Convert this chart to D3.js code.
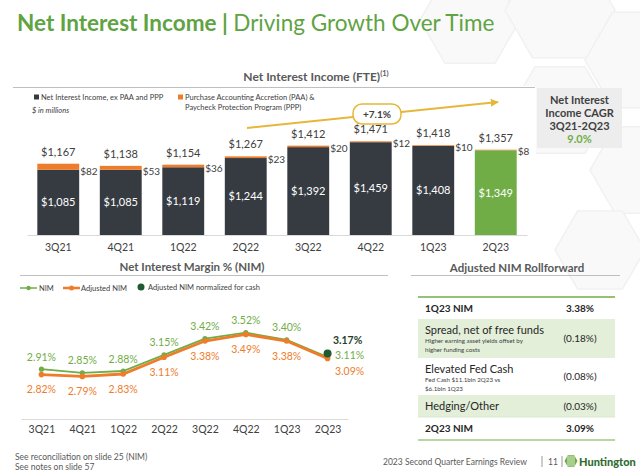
<!DOCTYPE html>
<html><head><meta charset="utf-8">
<script src="https://cdn.jsdelivr.net/npm/d3@7"></script>
<style>
html,body{margin:0;padding:0;background:#fff;}
svg{display:block;font-family:Lato,"Open Sans",sans-serif;}
</style></head>
<body><svg id="c" width="640" height="474"></svg>
<script>
// ---- data ----
const quarters = ["3Q21","4Q21","1Q22","2Q22","3Q22","4Q22","1Q23","2Q23"];
const niiExPaa = [1085,1085,1119,1244,1392,1459,1408,1349];
const paaPpp   = [82,53,36,23,20,12,10,8];
const niiTotal = [1167,1138,1154,1267,1412,1471,1418,1357];
const nim      = [2.91,2.85,2.88,3.15,3.42,3.52,3.40,3.11];
const adjNim   = [2.82,2.79,2.83,3.11,3.38,3.49,3.38,3.09];
const adjNimNormCash = 3.17;
const growthLabel = "+7.1%";
const cagrLabel = "9.0%";
const rollLabels = ["1Q23 NIM","Spread, net of free funds","Elevated Fed Cash","Hedging/Other","2Q23 NIM"];
const rollNotes  = [[],["Higher earning asset yields offset by","higher funding costs"],["Fed Cash $11.1bln 2Q23 vs","$6.1bln 1Q23"],[],[]];
const rollValues = ["3.38%","(0.18%)","(0.08%)","(0.03%)","3.09%"];

const svg = d3.select("#c");
const GREEN="#5fa343", DARK="#363b42", ORANGE="#ee7d2b", LGREEN="#70ad47", GOLD="#e5b83a", GRAY="#595959";

// background hexagons (faint)
const hexG = svg.append("g");
function hex(cx,cy,r){const p=[];for(let i=0;i<6;i++){const a=Math.PI/3*i;p.push([cx+r*Math.cos(a),cy+r*Math.sin(a)]);}return p;}
[[470,20,50],[560,10,55],[640,60,55],[560,110,50],[640,170,50],[600,250,45]].forEach(h=>{
  hexG.append("polygon").attr("points",hex(...h).join(" ")).attr("fill","#f9f9f9").attr("stroke","#f1f1f1").attr("stroke-width",1.5);
});

// title
const t = svg.append("text").attr("x",17).attr("y",31).attr("font-size",22.5).attr("fill",GREEN);
t.append("tspan").attr("font-weight","bold").text("Net Interest Income | ");
t.append("tspan").text("Driving Growth Over Time");

// ---- bar chart ----
svg.append("rect").attr("x",12).attr("y",86).attr("width",524).attr("height",180).attr("fill","#fff");
svg.append("text").attr("x",316).attr("y",81).attr("text-anchor","middle").attr("font-size",12).attr("font-weight","bold").attr("fill",GRAY)
  .text("Net Interest Income (FTE)").append("tspan").attr("font-size",7.5).attr("dy",-5).text("(1)");
svg.append("line").attr("x1",13).attr("x2",535).attr("y1",87.5).attr("y2",87.5).attr("stroke","#bfbfbf");

// legend
svg.append("rect").attr("x",34).attr("y",94.5).attr("width",5).attr("height",5).attr("fill",DARK);
svg.append("text").attr("x",41).attr("y",99.5).attr("font-size",7.5).attr("fill","#404040").text("Net Interest Income, ex PAA and PPP");
svg.append("text").attr("x",32).attr("y",113).attr("font-size",7.5).attr("font-style","italic").attr("fill","#404040").text("$ in millions");
svg.append("rect").attr("x",178).attr("y",94.5).attr("width",5).attr("height",5).attr("fill",ORANGE);
svg.append("text").attr("x",185).attr("y",99.5).attr("font-size",7.5).attr("fill","#404040").text("Purchase Accounting Accretion (PAA) &");
svg.append("text").attr("x",185).attr("y",110).attr("font-size",7.5).attr("fill","#404040").text("Paycheck Protection Program (PPP)");

const xb = d3.scaleBand().domain(quarters).range([27,527]).paddingInner(0.33).paddingOuter(0.165);
const yb = d3.scaleLinear().domain([200,1600]).range([235,131.8]);
const bars = svg.append("g");
quarters.forEach((q,i)=>{
  const x=xb(q), w=xb.bandwidth();
  const last = i===quarters.length-1;
  bars.append("rect").attr("x",x).attr("width",w).attr("y",yb(niiExPaa[i])).attr("height",yb(200)-yb(niiExPaa[i])).attr("fill",last?LGREEN:DARK);
  bars.append("rect").attr("x",x).attr("width",w).attr("y",yb(niiTotal[i])).attr("height",yb(niiExPaa[i])-yb(niiTotal[i])).attr("fill",ORANGE);
  bars.append("text").attr("x",x+w/2).attr("y",(yb(niiExPaa[i])+yb(200))/2).attr("dy","0.35em").attr("text-anchor","middle")
    .attr("font-size",11).attr("fill","#fff").text("$"+d3.format(",")(niiExPaa[i]));
  bars.append("text").attr("x",x+w/2).attr("y",yb(niiTotal[i])-12).attr("dy","0.35em").attr("text-anchor","middle")
    .attr("font-size",11).attr("fill","#404040").text("$"+d3.format(",")(niiTotal[i]));
  bars.append("text").attr("x",x+w+1).attr("y",yb(niiExPaa[i])+1.5).attr("dy","0.35em")
    .attr("font-size",10).attr("fill","#404040").text("$"+paaPpp[i]);
});
const axB = svg.append("g").attr("transform","translate(0,235)").call(d3.axisBottom(xb).tickSize(0).tickPadding(9));
axB.select(".domain").attr("stroke","#d9d9d9");
axB.selectAll("text").attr("font-size",10.5).attr("fill","#404040").attr("font-family","Lato,sans-serif");

// growth arrow
svg.append("defs").append("marker").attr("id","arr").attr("viewBox","0 0 10 10").attr("refX",9).attr("refY",5)
  .attr("markerWidth",4).attr("markerHeight",4).attr("orient","auto")
  .append("path").attr("d","M0,0L10,5L0,10z").attr("fill",GOLD);
svg.append("line").attr("x1",247).attr("y1",128).attr("x2",498).attr("y2",102).attr("stroke",GOLD).attr("stroke-width",2).attr("marker-end","url(#arr)");
svg.append("rect").attr("x",353).attr("y",104).attr("width",48).attr("height",20).attr("rx",9).attr("fill","#fff").attr("stroke",GOLD).attr("stroke-width",1.5);
svg.append("text").attr("x",377).attr("y",114).attr("dy","0.35em").attr("text-anchor","middle").attr("font-size",10).attr("font-weight","bold").attr("fill","#404040").text(growthLabel);

// CAGR box
svg.append("rect").attr("x",537).attr("y",88).attr("width",85).attr("height",60).attr("fill","#ededed");
["Net Interest","Income CAGR","3Q21-2Q23"].forEach((s,i)=>{
  svg.append("text").attr("x",579.5).attr("y",100+i*13.3).attr("dy","0.35em").attr("text-anchor","middle").attr("font-size",11).attr("font-weight","bold").attr("fill","#404040").text(s);
});
svg.append("text").attr("x",579.5).attr("y",139.5).attr("dy","0.35em").attr("text-anchor","middle").attr("font-size",11).attr("font-weight","bold").attr("fill",LGREEN).text(cagrLabel);

// ---- NIM line chart ----
svg.append("text").attr("x",192).attr("y",271).attr("text-anchor","middle").attr("font-size",11.5).attr("font-weight","bold").attr("fill",GRAY).text("Net Interest Margin % (NIM)");
svg.append("line").attr("x1",20).attr("x2",388).attr("y1",275.5).attr("y2",275.5).attr("stroke","#bfbfbf");
// legend
const lg = svg.append("g");
lg.append("line").attr("x1",20).attr("x2",37).attr("y1",288).attr("y2",288).attr("stroke",LGREEN).attr("stroke-width",1.5);
lg.append("circle").attr("cx",28.5).attr("cy",288).attr("r",2.2).attr("fill",LGREEN);
lg.append("text").attr("x",39).attr("y",288).attr("dy","0.35em").attr("font-size",7.5).attr("fill","#404040").text("NIM");
lg.append("line").attr("x1",63).attr("x2",80).attr("y1",288).attr("y2",288).attr("stroke",ORANGE).attr("stroke-width",2.5);
lg.append("circle").attr("cx",71.5).attr("cy",288).attr("r",2.5).attr("fill",ORANGE);
lg.append("text").attr("x",81).attr("y",288).attr("dy","0.35em").attr("font-size",7.5).attr("fill","#404040").text("Adjusted NIM");
lg.append("circle").attr("cx",141).attr("cy",287).attr("r",3.5).attr("fill","#1f5b2e");
lg.append("text").attr("x",148).attr("y",287).attr("dy","0.35em").attr("font-size",7.5).attr("fill","#404040").text("Adjusted NIM normalized for cash");

const xl = d3.scalePoint().domain(quarters).range([21,348]).padding(0.5);
const yl = d3.scaleLinear().domain([2.08,3.8]).range([419,315.8]);
const axL = svg.append("g").attr("transform","translate(0,419)").call(d3.axisBottom(xl).tickSize(0).tickPadding(7));
axL.select(".domain").attr("stroke","#d9d9d9");
axL.selectAll("text").attr("font-size",10.5).attr("fill","#404040").attr("font-family","Lato,sans-serif");

const line = d3.line().x((d,i)=>xl(quarters[i])).y(d=>yl(d));
svg.append("path").datum(nim).attr("d",line).attr("fill","none").attr("stroke",LGREEN).attr("stroke-width",1.8);
svg.append("path").datum(adjNim).attr("d",line).attr("fill","none").attr("stroke",ORANGE).attr("stroke-width",2.8);
svg.selectAll(".pn").data(nim).enter().append("circle").attr("cx",(d,i)=>xl(quarters[i])).attr("cy",d=>yl(d)).attr("r",2.6).attr("fill",LGREEN);
svg.selectAll(".pa").data(adjNim).enter().append("circle").attr("cx",(d,i)=>xl(quarters[i])).attr("cy",d=>yl(d)).attr("r",2.8).attr("fill",ORANGE);
svg.append("circle").attr("cx",xl("2Q23")).attr("cy",yl(adjNimNormCash)).attr("r",4).attr("fill","#1f5b2e");

const pct = d=>d.toFixed(2)+"%";
nim.forEach((d,i)=>{
  const last=i===nim.length-1;
  svg.append("text").attr("x",last?xl(quarters[i])+22:xl(quarters[i])).attr("y",last?yl(d)-2:yl(d)-12).attr("dy","0.35em").attr("text-anchor","middle")
    .attr("font-size",10.5).attr("fill",LGREEN).text(pct(d));
});
adjNim.forEach((d,i)=>{
  const last=i===adjNim.length-1;
  svg.append("text").attr("x",last?xl(quarters[i])+22:xl(quarters[i])).attr("y",last?yl(d)+13:yl(d)+15).attr("dy","0.35em").attr("text-anchor","middle")
    .attr("font-size",10.5).attr("fill",ORANGE).text(pct(d));
});
svg.append("text").attr("x",xl("2Q23")+20).attr("y",yl(adjNimNormCash)-13).attr("dy","0.35em").attr("text-anchor","middle")
  .attr("font-size",10.5).attr("font-weight","bold").attr("fill","#1f3f2a").text(pct(adjNimNormCash));

// ---- Rollforward table ----
svg.append("text").attr("x",517).attr("y",272).attr("text-anchor","middle").attr("font-size",11.5).attr("font-weight","bold").attr("fill",GRAY).text("Adjusted NIM Rollforward");
svg.append("line").attr("x1",411).attr("x2",620).attr("y1",275.5).attr("y2",275.5).attr("stroke","#bfbfbf");
const rowY = [297,319,358,395,417,440];
const tbl = svg.append("g");
rollLabels.forEach((lab,i)=>{
  const y0=rowY[i], y1=rowY[i+1];
  const fill = (i===1||i===3)?"#e3efd9":"#fff";
  tbl.append("rect").attr("x",418).attr("y",y0).attr("width",197).attr("height",y1-y0).attr("fill",fill);
  const bold = (i===0||i===4);
  const notes = rollNotes[i];
  const ty = notes.length? y0+11.5 : (y0+y1)/2;
  tbl.append("text").attr("x",425).attr("y",ty).attr("dy","0.35em").attr("font-size",bold?10:11).attr("font-weight",bold?"bold":"normal").attr("fill","#262626").text(lab);
  notes.forEach((n,k)=>{
    tbl.append("text").attr("x",425).attr("y",ty+10.5+k*9).attr("dy","0.35em").attr("font-size",6.2).attr("fill","#404040").text(n);
  });
  tbl.append("text").attr("x",580).attr("y",(y0+y1)/2).attr("dy","0.35em").attr("text-anchor","middle").attr("font-size",10).attr("font-weight",bold?"bold":"normal").attr("fill","#262626").text(rollValues[i]);
});
tbl.append("line").attr("x1",418).attr("x2",615).attr("y1",297).attr("y2",297).attr("stroke",LGREEN).attr("stroke-width",1.5);
tbl.append("line").attr("x1",418).attr("x2",615).attr("y1",440).attr("y2",440).attr("stroke",LGREEN).attr("stroke-width",1.2);
tbl.append("line").attr("x1",418).attr("x2",615).attr("y1",417).attr("y2",417).attr("stroke","#d9e7cf").attr("stroke-width",1);

// ---- footer ----
svg.append("text").attr("x",15).attr("y",460).attr("font-size",8.5).attr("fill","#595959").text("See reconciliation on slide 25 (NIM)");
svg.append("text").attr("x",15).attr("y",470).attr("font-size",8.5).attr("fill","#595959").text("See notes on slide 57");
svg.append("text").attr("x",383).attr("y",465).attr("font-size",8.5).attr("fill","#595959").text("2023 Second Quarter Earnings Review");
svg.append("line").attr("x1",542).attr("x2",542).attr("y1",456).attr("y2",467).attr("stroke","#999");
svg.append("text").attr("x",548).attr("y",465).attr("font-size",8.5).attr("fill","#595959").text("11");
svg.append("line").attr("x1",562).attr("x2",562).attr("y1",456).attr("y2",467).attr("stroke","#999");
// logo
const lgo = svg.append("g").attr("transform","translate(571,461)");
lgo.append("polygon").attr("points",hex(0,0,6.5).join(" ")).attr("fill",LGREEN);
[-3,-1,1,3].forEach(dx=>lgo.append("line").attr("x1",dx).attr("x2",dx).attr("y1",-5).attr("y2",5).attr("stroke","#fff").attr("stroke-width",0.8));
svg.append("text").attr("x",579).attr("y",466).attr("font-size",11).attr("font-weight","900").attr("fill","#2f6b2f").text("Huntington");
</script></body></html>
